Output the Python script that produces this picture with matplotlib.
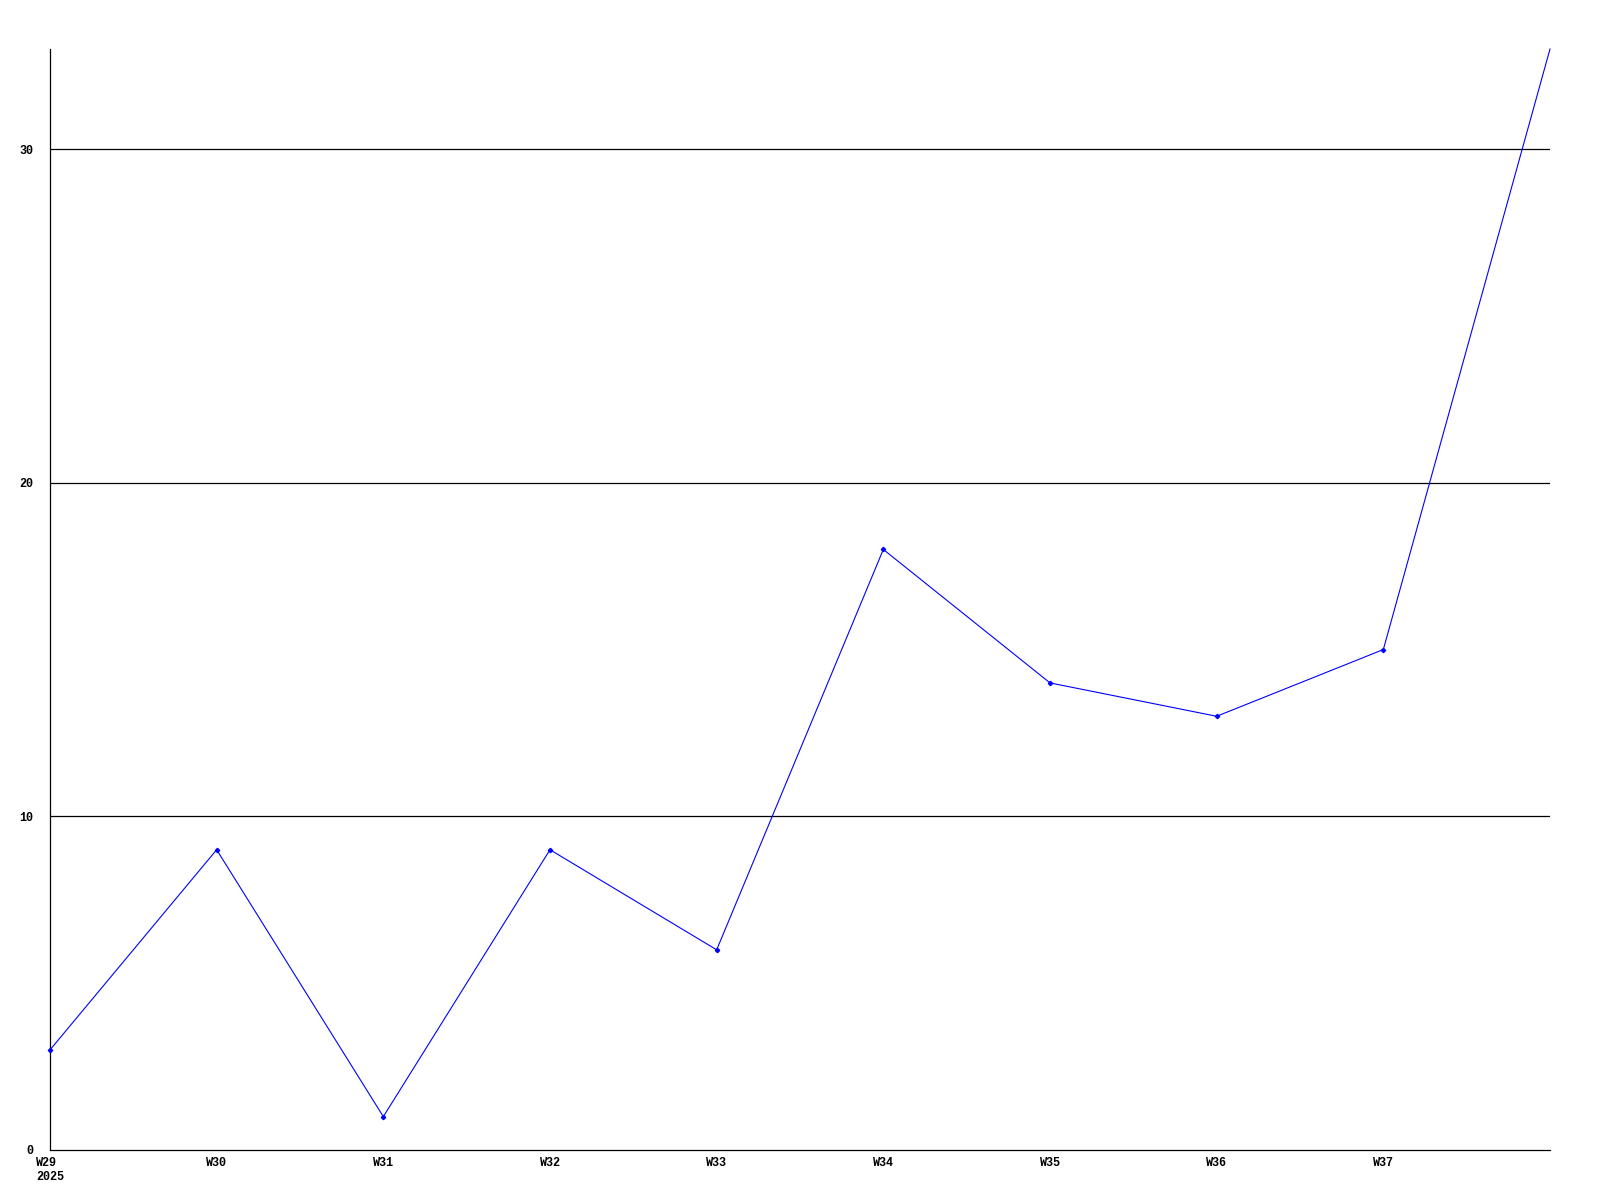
import matplotlib
matplotlib.use("Agg")
import matplotlib.pyplot as plt

# weekly counts
weeks = ["W29", "W30", "W31", "W32", "W33", "W34", "W35", "W36", "W37", "W38"]
values = [3, 9, 1, 9, 6, 18, 14, 13, 15, 33]
tick_labels = ["W29\n2025", "W30", "W31", "W32", "W33", "W34", "W35", "W36", "W37"]
y_ticks = [0, 10, 20, 30]

plt.rcParams['font.family'] = ['Liberation Mono', 'DejaVu Sans Mono']

fig = plt.figure(figsize=(16, 12), dpi=100)
ax = fig.add_axes([50 / 1600, 1 - 1150 / 1200, 1500 / 1600, 1101 / 1200])

x = list(range(len(weeks)))
ax.plot(x[:-1], values[:-1], color='#0000ff', linewidth=0.8, marker='D',
        markersize=2.2, linestyle='none', clip_on=False, zorder=3)
ax.plot(x, values, color='#0000ff', linewidth=0.8, clip_on=False, zorder=3)

for yv in y_ticks[1:]:
    ax.axhline(yv, color='black', linewidth=0.9, zorder=1)

ax.set_xlim(0, len(weeks) - 1)
ax.set_ylim(0, 33)
ax.set_xticks(x[:len(tick_labels)])
ax.set_xticklabels(tick_labels, fontsize=8.5, fontweight='bold', multialignment='left')
ax.set_yticks(y_ticks)
ax.set_yticklabels([str(v) for v in y_ticks], fontsize=8.5, fontweight='bold')
ax.tick_params(axis='both', length=0)
ax.tick_params(axis='y', pad=12)
ax.tick_params(axis='x', pad=5)

for side in ['top', 'right']:
    ax.spines[side].set_visible(False)
for side in ['left', 'bottom']:
    ax.spines[side].set_linewidth(0.9)

plt.savefig('out.png', dpi=100)
